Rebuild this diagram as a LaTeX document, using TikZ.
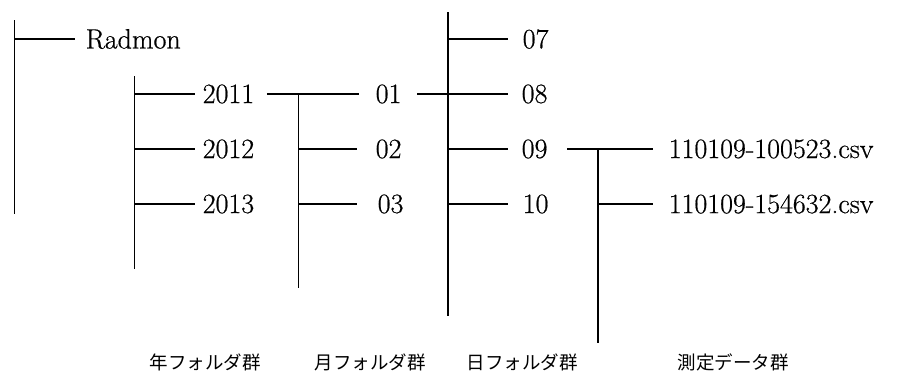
\documentclass[tikz,border=0pt]{standalone}
\usepackage{fontspec}
\newfontfamily\jp{Noto Sans CJK JP}
\newfontfamily\numfont{Latin Modern Roman}[FakeBold=0.6]
\begin{document}
\begin{tikzpicture}[x=1pt,y=-1pt,line width=1.5pt,
  lbl/.style={anchor=west,inner sep=0pt,font=\numfont\fontsize{28}{28}\selectfont},
  grp/.style={inner sep=0pt,font=\jp\fontsize{18.5}{20}\selectfont}]
\useasboundingbox (0,0) rectangle (898,372);
% trunk lines
\coordinate (L1t) at (14.5,20);  \coordinate (L1b) at (14.5,214);
\coordinate (L2t) at (134.5,76); \coordinate (L2b) at (134.5,269);
\coordinate (L3t) at (298.5,94); \coordinate (L3b) at (298.5,288);
\coordinate (L4t) at (448,12);   \coordinate (L4b) at (448,316);
\coordinate (L5t) at (598,149);  \coordinate (L5b) at (598,343);
% labels
\node[lbl] (radmon) at (85,39) {Radmon};
\node[lbl] (y11) at (202,94) {2011};
\node[lbl] (y12) at (202,149) {2012};
\node[lbl] (y13) at (202,204) {2013};
\node[lbl] (m01) at (375,94) {01};
\node[lbl] (m02) at (375,149) {02};
\node[lbl] (m03) at (377,204) {03};
\node[lbl] (d07) at (522,39) {07};
\node[lbl] (d08) at (521,94) {08};
\node[lbl] (d09) at (521,149) {09};
\node[lbl] (d10) at (522,204) {10};
\node[lbl] (f1) at (668,149) {110109-100523.csv};
\node[lbl] (f2) at (668,204) {110109-154632.csv};
% group captions
\node[grp] (g1) at (205,362) {年フォルダ群};
\node[grp] (g2) at (370,362) {月フォルダ群};
\node[grp] (g3) at (522,362) {日フォルダ群};
\node[grp] (g4) at (733,362) {測定データ群};
% trunks
\draw (L1t) -- (L1b);
\draw (L2t) -- (L2b);
\draw (L3t) -- (L3b);
\draw (L4t) -- (L4b);
\draw (L5t) -- (L5b);
% branches
\draw (L1t |- radmon.west) -- ([xshift=-10pt]radmon.west);
\draw (L2t |- y11.west) -- ([xshift=-7pt]y11.west);
\draw (L2t |- y12.west) -- ([xshift=-7pt]y12.west);
\draw (L2t |- y13.west) -- ([xshift=-7pt]y13.west);
\draw ([xshift=12pt]y11.east) -- ([xshift=-16pt]m01.west);
\draw (L3t |- m02.west) -- ([xshift=-18pt]m02.west);
\draw (L3t |- m03.west) -- ([xshift=-20pt]m03.west);
\draw ([xshift=15pt]m01.east) -- ([xshift=-13pt]d08.west);
\draw (L4t |- d07.west) -- ([xshift=-14pt]d07.west);
\draw (L4t |- d09.west) -- ([xshift=-13pt]d09.west);
\draw (L4t |- d10.west) -- ([xshift=-14pt]d10.west);
\draw ([xshift=19pt]d09.east) -- ([xshift=-15pt]f1.west);
\draw (L5t |- f2.west) -- ([xshift=-15pt]f2.west);
\end{tikzpicture}
\end{document}
